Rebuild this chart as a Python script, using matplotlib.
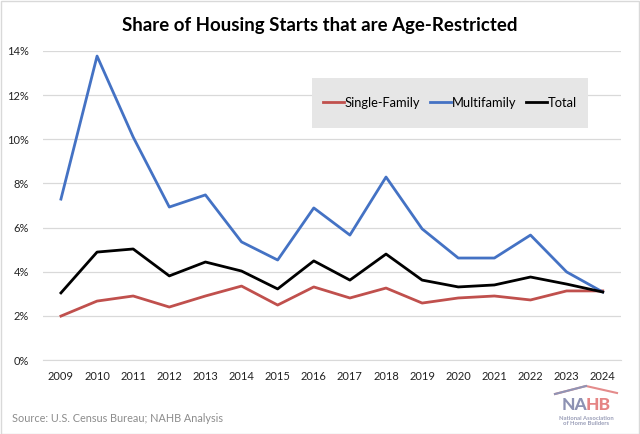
import numpy as np
import matplotlib.pyplot as plt
from matplotlib.patches import Rectangle
from matplotlib.lines import Line2D
from matplotlib.ticker import PercentFormatter

plt.rcParams['font.family'] = ['Lato', 'DejaVu Sans']

# Datos
anios = list(range(2009, 2025))
unifamiliar = [1.99, 2.67, 2.90, 2.40, 2.90, 3.35, 2.49, 3.31, 2.81, 3.26, 2.58, 2.81, 2.90, 2.72, 3.13, 3.13]
multifamiliar = [7.29, 13.77, 10.10, 6.93, 7.48, 5.35, 4.53, 6.89, 5.66, 8.29, 5.94, 4.62, 4.62, 5.66, 3.99, 3.08]
total = [3.04, 4.89, 5.03, 3.81, 4.44, 4.03, 3.22, 4.49, 3.62, 4.80, 3.62, 3.31, 3.40, 3.76, 3.44, 3.08]

rojo = '#c0504d'
azul = '#4472c4'

fig = plt.figure(figsize=(6.4, 4.34), dpi=100)
ax = fig.add_axes([0.067, 0.1705, 0.903, 0.712])

ax.plot(anios, unifamiliar, color=rojo, lw=2, label='Single-Family')
ax.plot(anios, multifamiliar, color=azul, lw=2, label='Multifamily')
ax.plot(anios, total, color='black', lw=2, label='Total')

ax.set_xlim(2008.5, 2024.5)
ax.set_ylim(0, 14)
ax.set_yticks(np.arange(0, 15, 2))
ax.yaxis.set_major_formatter(PercentFormatter(decimals=0))
ax.set_xticks(anios)
ax.grid(axis='y', color='#d9d9d9', lw=0.9)
ax.set_axisbelow(True)
for s in ax.spines.values():
    s.set_visible(False)
ax.spines['bottom'].set_visible(True)
ax.spines['bottom'].set_color('#d9d9d9')
ax.tick_params(length=0, labelsize=8, colors='#222222', pad=8)
ax.tick_params(axis='y', pad=10)

# leyenda con fondo gris
caja = Rectangle((312 / 640, 1 - 128 / 434), 276 / 640, 50 / 434,
                 transform=fig.transFigure, facecolor='#e6e6e6',
                 edgecolor='none', zorder=3, clip_on=False)
ax.add_patch(caja)
leg = ax.legend(loc='center', bbox_to_anchor=(450 / 640, 1 - 103 / 434),
                bbox_transform=fig.transFigure, ncol=3, frameon=False,
                fontsize=9.3, handlelength=1.6, handletextpad=0.08, columnspacing=0.75)
leg.set_zorder(5)

fig.text(0.5, 1 - 25 / 434, 'Share of Housing Starts that are Age-Restricted',
         ha='center', va='center', fontsize=13.4, fontweight='bold')
fig.text(12 / 640, 1 - 419 / 434, 'Source: U.S. Census Bureau; NAHB Analysis',
         ha='left', va='center', fontsize=7.8, color='#8c8c8c')

# logo NAHB
fig.lines.append(Line2D([555 / 640, 586 / 640, 617 / 640],
                        [1 - 394 / 434, 1 - 386 / 434, 1 - 393 / 434],
                        transform=fig.transFigure, color='#e48b8b', lw=1.5))
fig.lines.append(Line2D([555 / 640, 586 / 640], [1 - 394 / 434, 1 - 386 / 434],
                        transform=fig.transFigure, color='#9094b5', lw=1.5))
fig.text(587 / 640, 1 - 409.5 / 434, 'NA', ha='right', va='baseline', fontsize=12.5,
         fontweight='black', color='#8d92b3')
fig.text(586 / 640, 1 - 409.5 / 434, 'HB', ha='left', va='baseline', fontsize=12.5,
         fontweight='black', color='#e58585')
fig.text(586 / 640, 1 - 421 / 434, 'National Association\nof Home Builders',
         ha='center', va='center', fontsize=4.2, fontweight='bold',
         color='#9a9eb8', linespacing=1.05)

# borde
fig.patches.append(Rectangle((0.001, 0.001), 0.997, 0.997, transform=fig.transFigure,
                             facecolor='none', edgecolor='#d9d9d9', lw=1))

fig.savefig('out.png', dpi=100)
